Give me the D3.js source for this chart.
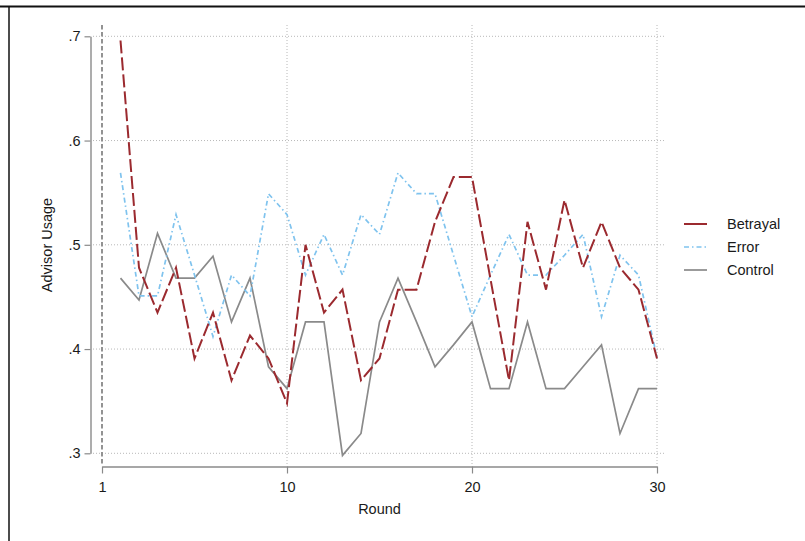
<!DOCTYPE html>
<html>
<head>
<meta charset="utf-8">
<script src="https://cdn.jsdelivr.net/npm/d3@7"></script>
<style>
  html, body { margin: 0; padding: 0; background: #fff; }
  svg { display: block; font-family: "Liberation Sans", Arial, sans-serif; }
</style>
</head>
<body>
<div id="chart"></div>
<script>
// rounds 1..30
const rounds = [1,2,3,4,5,6,7,8,9,10,11,12,13,14,15,16,17,18,19,20,21,22,23,24,25,26,27,28,29,30];

const betrayal = [0.696,0.478,0.435,0.478,0.391,0.435,0.370,0.413,0.391,0.348,
                  0.500,0.435,0.457,0.370,0.391,0.457,0.457,0.522,0.565,0.565,
                  0.467,0.370,0.522,0.457,0.543,0.478,0.522,0.478,0.457,0.391];

const errorVals = [0.569,0.451,0.451,0.529,0.471,0.412,0.471,0.451,0.549,0.529,
                   0.471,0.510,0.471,0.529,0.510,0.569,0.549,0.549,0.490,0.431,
                   0.471,0.510,0.471,0.471,0.490,0.510,0.431,0.490,0.471,0.392];

const control = [0.468,0.447,0.511,0.468,0.468,0.489,0.426,0.468,0.383,0.362,
                 0.426,0.426,0.298,0.319,0.426,0.468,0.426,0.383,0.404,0.426,
                 0.362,0.362,0.426,0.362,0.362,0.383,0.404,0.319,0.362,0.362];

const xTickValues = [0, 10, 20, 30];
const xTickLabels = ["1", "10", "20", "30"];
const yTickValues = [0.3, 0.4, 0.5, 0.6, 0.7];
const yTickLabels = [".3", ".4", ".5", ".6", ".7"];

const seriesNames = ["Betrayal", "Error", "Control"];

const W = 805, H = 541;

const svg = d3.select('#chart').append('svg')
    .attr('width', W)
    .attr('height', H);

// frame (top + left edges of the cropped figure)
svg.append('line').attr('x1', 0).attr('x2', W).attr('y1', 6.5).attr('y2', 6.5)
  .attr('stroke', '#111').attr('stroke-width', 2);
svg.append('line').attr('x1', 9).attr('x2', 9).attr('y1', 6).attr('y2', H)
  .attr('stroke', '#111').attr('stroke-width', 1.5);

const x = d3.scaleLinear().domain([0, 30]).range([102, 657]);
const y = d3.scaleLinear().domain([0.3, 0.7]).range([453.3, 36.3]);

const plotLeft = 93, plotRight = 666, plotTop = 25, plotBottom = 466;

// horizontal gridlines
svg.append('g').selectAll('line')
  .data(yTickValues)
  .enter().append('line')
    .attr('x1', plotLeft).attr('x2', plotRight)
    .attr('y1', d => y(d)).attr('y2', d => y(d))
    .attr('stroke', '#b8b8b8')
    .attr('stroke-width', 1)
    .attr('stroke-dasharray', '1,2');

// vertical gridlines
svg.append('g').selectAll('line')
  .data(xTickValues.slice(1))
  .enter().append('line')
    .attr('x1', d => x(d)).attr('x2', d => x(d))
    .attr('y1', plotTop).attr('y2', plotBottom)
    .attr('stroke', '#b8b8b8')
    .attr('stroke-width', 1)
    .attr('stroke-dasharray', '1,2');

// dashed reference line at first tick
svg.append('line')
  .attr('x1', x(0)).attr('x2', x(0))
  .attr('y1', plotTop).attr('y2', plotBottom)
  .attr('stroke', '#8e8e8e')
  .attr('stroke-width', 1.9)
  .attr('stroke-dasharray', '4.5,2.5');

// axes
const xAxis = svg.append('g')
  .attr('transform', 'translate(0,466.5)')
  .call(d3.axisBottom(x)
    .tickValues(xTickValues)
    .tickFormat((d, i) => xTickLabels[i])
    .tickSize(7)
    .tickSizeOuter(0)
    .tickPadding(8));

const yAxis = svg.append('g')
  .attr('transform', 'translate(90.5,0)')
  .call(d3.axisLeft(y)
    .tickValues(yTickValues)
    .tickFormat((d, i) => yTickLabels[i])
    .tickSize(6)
    .tickSizeOuter(0)
    .tickPadding(4));

[xAxis, yAxis].forEach(a => {
  a.select('.domain').attr('stroke', '#8a8a8a').attr('stroke-width', 1.4);
  a.selectAll('.tick line').attr('stroke', '#8a8a8a').attr('stroke-width', 1.2);
  a.selectAll('.tick text')
    .attr('fill', '#1a1a1a')
    .style('font-size', '14.5px')
    .style('font-family', '"Liberation Sans", Arial, sans-serif');
});

// axis titles
svg.append('text')
  .attr('x', x(15)).attr('y', 514)
  .attr('text-anchor', 'middle')
  .attr('fill', '#1a1a1a')
  .style('font-size', '14.5px')
  .text('Round');

svg.append('text')
  .attr('transform', 'translate(52,245) rotate(-90)')
  .attr('text-anchor', 'middle')
  .attr('fill', '#1a1a1a')
  .style('font-size', '14.5px')
  .text('Advisor Usage');

// series
const styles = [
  { name: seriesNames[0], values: betrayal, color: '#9b2a2f', dash: '13,4', width: 2 },
  { name: seriesNames[1], values: errorVals, color: '#7fc3ee', dash: '5,3,1.5,3', width: 1.7 },
  { name: seriesNames[2], values: control, color: '#8a8a8a', dash: null, width: 1.7 }
];

const line = d3.line()
  .x(d => x(d[0]))
  .y(d => y(d[1]));

// draw control first, betrayal on top
[styles[2], styles[1], styles[0]].forEach(s => {
  svg.append('path')
    .datum(rounds.map((r, i) => [r, s.values[i]]))
    .attr('d', line)
    .attr('fill', 'none')
    .attr('stroke', s.color)
    .attr('stroke-width', s.width)
    .attr('stroke-dasharray', s.dash)
    .attr('stroke-linejoin', 'miter');
});

// legend
const legend = svg.append('g').attr('transform', 'translate(684,224)');
styles.forEach((s, i) => {
  const g = legend.append('g').attr('transform', `translate(0,${i * 23})`);
  g.append('line')
    .attr('x1', 0).attr('x2', 23)
    .attr('y1', 0).attr('y2', 0)
    .attr('stroke', s.color)
    .attr('stroke-width', s.width)
    .attr('stroke-dasharray', i === 1 ? '5,3,1.5,3' : null);
  g.append('text')
    .attr('x', 43).attr('y', 5)
    .attr('fill', '#1a1a1a')
    .style('font-size', '14.5px')
    .text(s.name);
});
</script>
</body>
</html>
